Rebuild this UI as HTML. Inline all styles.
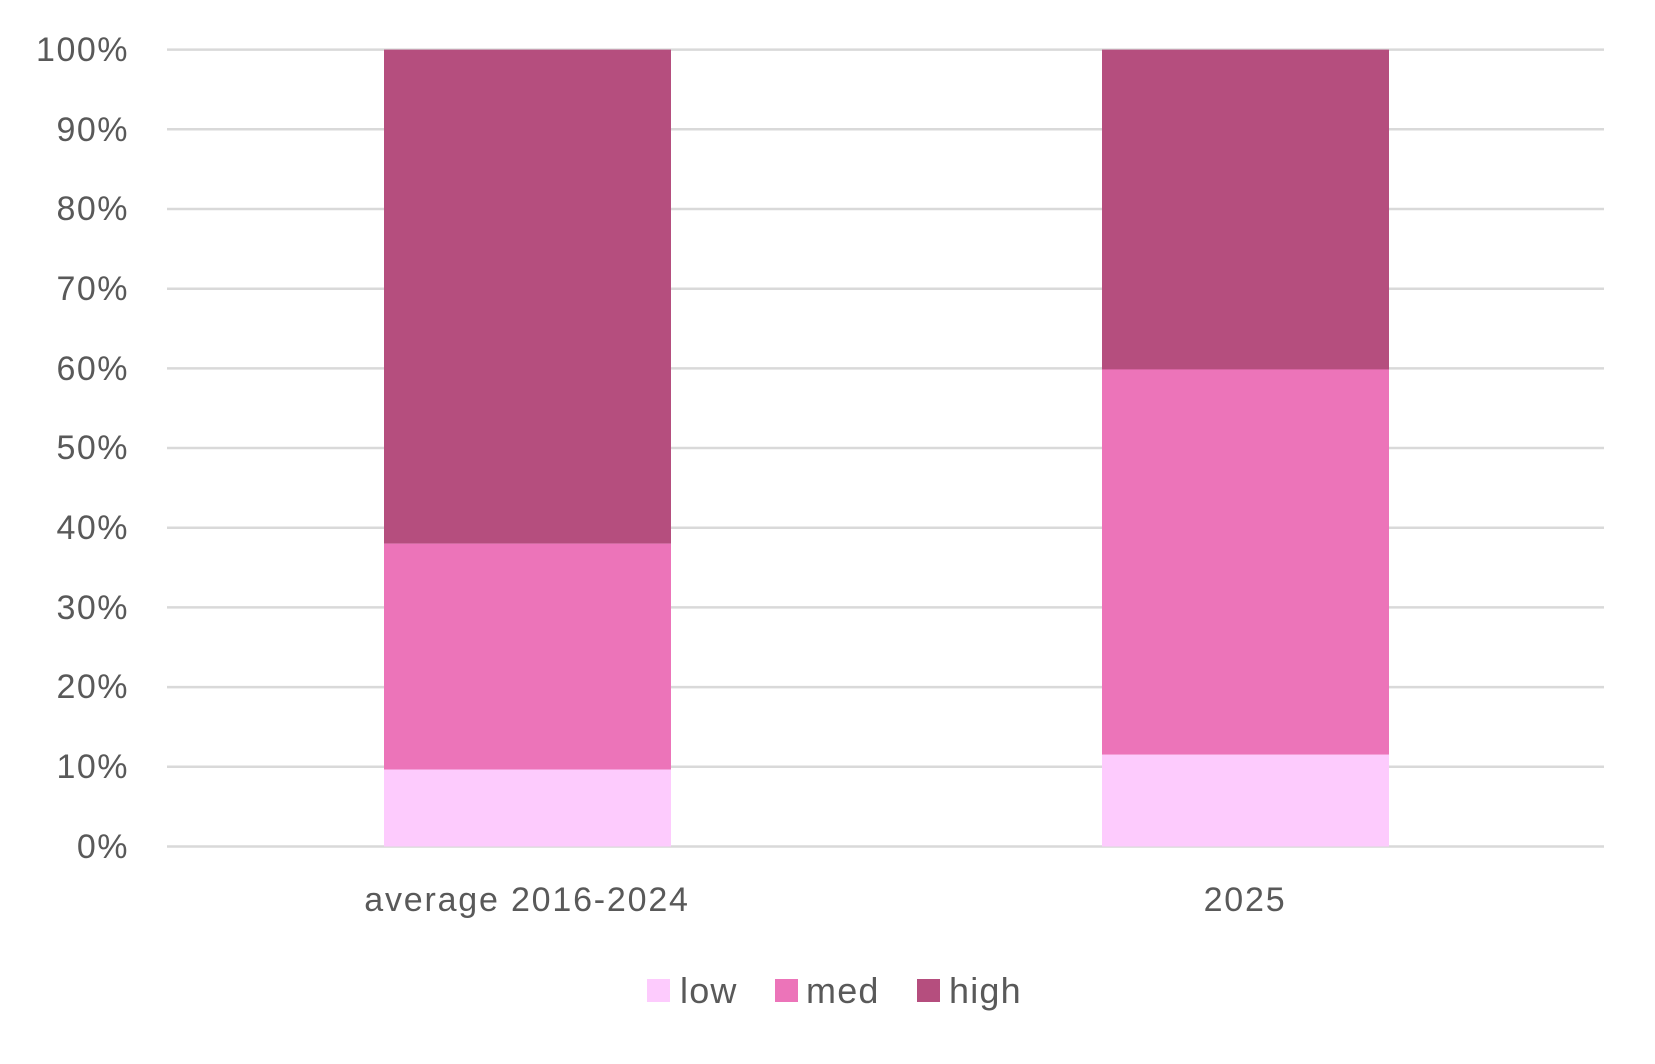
<!DOCTYPE html>
<html><head><style>
html,body{margin:0;padding:0;background:#fff;}
svg text{font-family:"Liberation Sans",sans-serif;fill:#595959;}
</style></head><body>
<svg width="1655" height="1059" viewBox="0 0 1655 1059" xmlns="http://www.w3.org/2000/svg">
<g stroke="#d9d9d9" stroke-width="2.5">
<line x1="167" x2="1604" y1="49.6" y2="49.6"/>
<line x1="167" x2="1604" y1="129.3" y2="129.3"/>
<line x1="167" x2="1604" y1="209" y2="209"/>
<line x1="167" x2="1604" y1="288.7" y2="288.7"/>
<line x1="167" x2="1604" y1="368.4" y2="368.4"/>
<line x1="167" x2="1604" y1="448" y2="448"/>
<line x1="167" x2="1604" y1="527.7" y2="527.7"/>
<line x1="167" x2="1604" y1="607.4" y2="607.4"/>
<line x1="167" x2="1604" y1="687.1" y2="687.1"/>
<line x1="167" x2="1604" y1="766.8" y2="766.8"/>
<line x1="167" x2="1604" y1="846.5" y2="846.5"/>
</g>
<rect x="384" y="49.6" width="287" height="494" fill="#b54e7e"/>
<rect x="384" y="543.6" width="287" height="226" fill="#ec74b9"/>
<rect x="384" y="769.5" width="287" height="77" fill="#fdcbfd"/>
<rect x="1102" y="49.6" width="287" height="320" fill="#b54e7e"/>
<rect x="1102" y="369.4" width="287" height="385.3" fill="#ec74b9"/>
<rect x="1102" y="754.7" width="287" height="91.8" fill="#fdcbfd"/>
<g font-size="34" text-anchor="end" letter-spacing="1.5">
<text x="129" y="61">100%</text>
<text x="129" y="141">90%</text>
<text x="129" y="220">80%</text>
<text x="129" y="300">70%</text>
<text x="129" y="380">60%</text>
<text x="129" y="459">50%</text>
<text x="129" y="539">40%</text>
<text x="129" y="619">30%</text>
<text x="129" y="698">20%</text>
<text x="129" y="778">10%</text>
<text x="129" y="858">0%</text>
</g>
<g font-size="34" text-anchor="middle" letter-spacing="1.8">
<text x="527" y="911">average 2016-2024</text>
<text x="1245" y="911">2025</text>
</g>
<g font-size="36" letter-spacing="1.2">
<rect x="647" y="979" width="23" height="23" fill="#fdcbfd"/>
<text x="680" y="1003">low</text>
<rect x="775" y="979" width="23" height="23" fill="#ec74b9"/>
<text x="806" y="1003">med</text>
<rect x="917" y="979" width="23" height="23" fill="#b54e7e"/>
<text x="949" y="1003">high</text>
</g>
</svg>
</body></html>
